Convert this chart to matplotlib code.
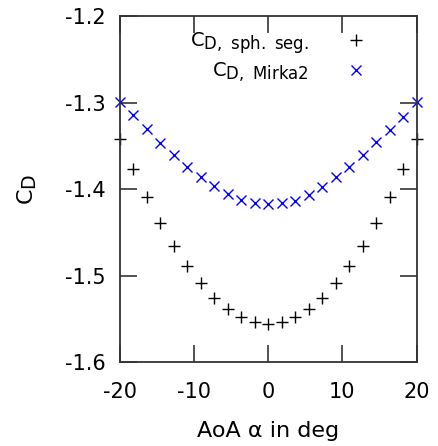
import matplotlib
matplotlib.use("Agg")
import matplotlib.pyplot as plt
import matplotlib._mathtext as mathtext

# subscripts in the original are rendered a bit larger than mathtext's default
mathtext.SHRINK_FACTOR = 0.85

# angle of attack (deg)
aoa = [-20.0, -18.18, -16.36, -14.55, -12.73, -10.91, -9.09, -7.27, -5.45, -3.64, -1.82,
       0.0, 1.82, 3.64, 5.45, 7.27, 9.09, 10.91, 12.73, 14.55, 16.36, 18.18, 20.0]

# drag coefficient, spherical segment
cd_sph = [-1.3426, -1.3773, -1.4096, -1.4397, -1.4659, -1.4890, -1.5090, -1.5257,
          -1.5387, -1.5476, -1.5538, -1.5561, -1.5538, -1.5476, -1.5387, -1.5260,
          -1.5090, -1.4890, -1.4659, -1.4397, -1.4096, -1.3773, -1.3426]

# drag coefficient, Mirka2
cd_mirka = [-1.2991, -1.3145, -1.3310, -1.3465, -1.3607, -1.3750, -1.3865, -1.3965,
            -1.4058, -1.4127, -1.4166, -1.4173, -1.4166, -1.4135, -1.4070, -1.3980,
            -1.3865, -1.3750, -1.3607, -1.3453, -1.3318, -1.3164, -1.2991]

fig = plt.figure(figsize=(4.38, 4.46), dpi=100)
ax = fig.add_axes([0.273, 0.188, 0.678, 0.776])

ax.plot(aoa, cd_sph, linestyle="none", marker="+", color="black",
        markersize=8.5, markeredgewidth=1.0, clip_on=False,
        label=r"$\mathregular{C_{D,\ sph.\ seg.}}$")
ax.plot(aoa, cd_mirka, linestyle="none", marker="x", color="blue",
        markersize=7.5, markeredgewidth=1.0, clip_on=False,
        label=r"$\mathregular{C_{D,\ Mirka2}}$")

ax.set_xlim(-20, 20)
ax.set_ylim(-1.6, -1.2)
ax.set_xticks([-20, -10, 0, 10, 20])
ax.set_yticks([-1.6, -1.5, -1.4, -1.3, -1.2])
ax.set_yticklabels(["-1.6", "-1.5", "-1.4", "-1.3", "-1.2"])
ax.set_xticklabels(["-20", "-10", "0", "10", "20"])

ax.tick_params(direction="in", length=12, width=1.2, top=True, right=True,
               labelsize=15, color="#333333")
ax.tick_params(axis="x", pad=14)
ax.tick_params(axis="y", pad=10)
for s in ax.spines.values():
    s.set_linewidth(1.3)
    s.set_color("#333333")

ax.set_xlabel("AoA α in deg", fontsize=16, labelpad=14)
ax.set_ylabel(r"$\mathregular{C_D}$", fontsize=16, labelpad=19)

ax.legend(loc="upper right", bbox_to_anchor=(0.863, 0.96), frameon=False,
          markerfirst=False, fontsize=14, handletextpad=1.45,
          labelspacing=0.25, borderaxespad=0, borderpad=0)

fig.savefig("out.png", dpi=100)
